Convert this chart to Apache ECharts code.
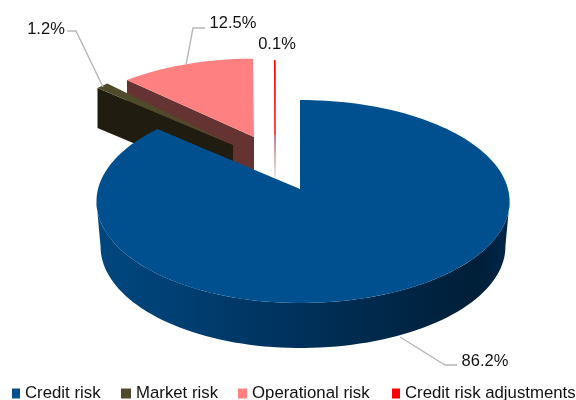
<!DOCTYPE html>
<html>
<head>
<meta charset="utf-8">
<style>html,body{margin:0;padding:0;background:#fff}#c{width:576px;height:400px}</style>
<script src="https://cdn.jsdelivr.net/npm/echarts@6/dist/echarts.min.js"></script>
</head>
<body>
<div id="c"></div>
<script>
// ---- data ----
const categories = ['Credit risk', 'Market risk', 'Operational risk', 'Credit risk adjustments'];
const shares = [86.2, 1.2, 12.5, 0.1];
const colors = ['#00508F', '#4F4A2A', '#FF8080', '#FF0000'];
const faceColors = ['#00508F', '#201C10', '#663333', '#8A2A2A'];

// ---- layout of the fake 3-D disc (per slice: screen apex and scale) ----
const apexX = [300, 233, 254, 275];
const apexY = [189, 145, 137, 135];
const scaleX = [1, 0.95, 0.96, 0.95];
const scaleY = [1, 0.95, 0.88, 0.84];
const depth = [45, 40, 45, 42];
const labelPos = [[485, 361], [46, 29], [233, 23], [277, 44]];
const leaders = [
  [[400, 337], [445, 365], [457, 365]],
  [[67, 31], [76, 31], [103, 87]],
  [[205, 28], [193, 28], [186, 65]],
  []
];
const legendLeft = [12, 121, 238, 392];
const legendSwatchW = [8, 10, 9, 8];
const FONT_FAMILY = '"Liberation Sans", Arial, sans-serif';
const LABEL_SIZE = 16.5, LEGEND_SIZE = 16.8;
const P = 0.123, RY = 100, RXR = 208, RXL = 202;

function project(deg) {            // clockwise from 12 o'clock, offset from the apex
  const a = deg * Math.PI / 180, u = Math.sin(a), v = Math.cos(a), w = 1 + P * v;
  return [(u > 0 ? RXR : RXL) * u / w, -RY * v / w];
}
const total = shares.reduce((s, v) => s + v, 0);
const startDeg = [], endDeg = [];
shares.reduce((acc, v, i) => { startDeg[i] = acc / total * 360; endDeg[i] = (acc + v) / total * 360; return acc + v; }, 0);

function arc(i, from, to) {
  const pts = [], n = Math.max(2, Math.ceil(Math.abs(to - from) / 2));
  for (let k = 0; k <= n; k++) {
    const p = project(from + (to - from) * k / n);
    pts.push([apexX[i] + p[0] * scaleX[i], apexY[i] + p[1] * scaleY[i]]);
  }
  return pts;
}
const wallGradient = {
  type: 'linear', global: true, x: 96, y: 0, x2: 510, y2: 0,
  colorStops: [
    { offset: 0, color: '#00477F' }, { offset: 0.25, color: '#003D6F' },
    { offset: 0.5, color: '#00305A' }, { offset: 0.75, color: '#002645' },
    { offset: 0.92, color: '#001E38' }, { offset: 1, color: '#002748' }
  ]
};
function lineEl(pts) {
  return { type: 'polyline', shape: { points: pts }, style: { fill: null, stroke: '#B8B8B8', lineWidth: 1.4 }, silent: true };
}
function labelEl(i) {
  return { type: 'text', style: { text: shares[i].toFixed(1) + '%', x: labelPos[i][0], y: labelPos[i][1], align: 'center', verticalAlign: 'middle', fontFamily: FONT_FAMILY, fontSize: LABEL_SIZE, fill: '#111' }, silent: true };
}
function renderSlice(i) {
  const ch = [];
  const top = arc(i, startDeg[i], endDeg[i]);
  const A = [apexX[i], apexY[i]];
  if (i === 0) {
    const wallTop = arc(0, 97, 263);
    const wallBottom = wallTop.map(p => [A[0] + (p[0] - A[0]) * 0.98, p[1] + depth[0]]);
    ch.push({ type: 'polygon', shape: { points: wallTop.concat(wallBottom.reverse()) }, style: { fill: wallGradient } });
  } else if (i === 3) {
    const e = top[top.length - 1];
    ch.push({ type: 'line', shape: { x1: A[0], y1: A[1], x2: A[0], y2: A[1] + depth[i] },
      style: { lineWidth: 1.2, stroke: { type: 'linear', x: 0, y: 0, x2: 0, y2: 1, colorStops: [{ offset: 0, color: faceColors[3] }, { offset: 1, color: '#E8D8D8' }] } } });
    ch.push({ type: 'line', shape: { x1: A[0], y1: A[1], x2: e[0], y2: e[1] }, style: { lineWidth: 1.4, stroke: colors[3] } });
  } else {
    const c = top[0];
    ch.push({ type: 'polygon', shape: { points: [c, A, [A[0], A[1] + depth[i]], [c[0], c[1] + depth[i]]] }, style: { fill: faceColors[i] } });
  }
  ch.push({ type: 'polygon', shape: { points: [A].concat(top) }, style: { fill: colors[i] } });
  if (leaders[i].length) ch.push(lineEl(leaders[i]));
  ch.push(labelEl(i));
  return { type: 'group', children: ch };
}
const drawOrder = [2, 3, 1, 0];
const option = {
  animation: false,
  legend: categories.map((name, i) => ({
    data: [name], left: legendLeft[i], top: 385, padding: 0, icon: 'rect',
    itemWidth: legendSwatchW[i], itemHeight: 10, selectedMode: false,
    textStyle: { fontFamily: FONT_FAMILY, fontSize: LEGEND_SIZE, color: '#111' }
  })),
  series: drawOrder.map(i => ({
    type: 'custom', name: categories[i], coordinateSystem: 'none', silent: true,
    itemStyle: { color: colors[i] },
    data: [[shares[i]]],
    renderItem: () => renderSlice(i)
  }))
};
echarts.init(document.getElementById('c'), null, { renderer: 'canvas' }).setOption(option);
</script>
</body>
</html>
